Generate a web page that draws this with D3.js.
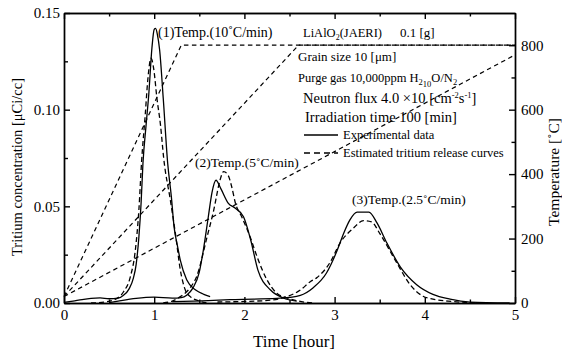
<!DOCTYPE html>
<html>
<head>
<meta charset="utf-8">
<script src="https://cdn.jsdelivr.net/npm/d3@7"></script>
<style>
  body { margin: 0; background: #fff; }
  svg { font-family: "Liberation Serif", "Times New Roman", serif; }
  .axis path, .axis line { stroke: #000; stroke-width: 1.4; }
  .axis text { font-size: 15px; fill: #000; font-family: "Liberation Serif", serif; }
</style>
</head>
<body>
<svg></svg>
<script>
// time axis (hour)
const hourTicks = [0, 1, 2, 3, 4, 5];
const hourMinor = [0.5, 1.5, 2.5, 3.5, 4.5];
const concTicks = [0, 0.05, 0.10, 0.15];
const concMinor = [0.025, 0.075, 0.125];
const tempTicks = [0, 200, 400, 600, 800];
const tempMinor = [100, 300, 500, 700];

// experimental data [hour, uCi/cc]
const exp1 = [[0, 0.0003], [0.1, 0.001], [0.2, 0.0018], [0.3, 0.0024], [0.4, 0.0026], [0.5, 0.0022],
  [0.6, 0.0025], [0.66, 0.004], [0.72, 0.0072], [0.77, 0.013], [0.80, 0.02], [0.83, 0.034],
  [0.855, 0.052], [0.875, 0.072], [0.91, 0.092], [0.94, 0.108], [0.975, 0.132], [1.0, 0.1415],
  [1.015, 0.142], [1.035, 0.139], [1.06, 0.131], [1.10, 0.106], [1.15, 0.072], [1.19, 0.055],
  [1.22, 0.0395], [1.26, 0.029], [1.29, 0.022], [1.36, 0.012], [1.46, 0.0067], [1.55, 0.0045], [1.62, 0.0033]];
const exp2 = [[0.5, 0.0002], [0.6, 0.001], [0.8, 0.0024], [1.0, 0.003], [1.2, 0.0025], [1.3, 0.0028],
  [1.36, 0.004], [1.43, 0.0078], [1.50, 0.016], [1.545, 0.0274], [1.60, 0.0446], [1.64, 0.057],
  [1.685, 0.0635], [1.74, 0.059], [1.82, 0.0517], [1.90, 0.049], [1.99, 0.0446], [2.07, 0.0326],
  [2.15, 0.017], [2.29, 0.0067], [2.43, 0.0026], [2.58, 0.001]];
const exp3 = [[1.2, 0.0007], [1.6, 0.0012], [1.84, 0.0017], [2.1, 0.002], [2.4, 0.0025], [2.62, 0.004],
  [2.76, 0.0078], [2.91, 0.0155], [3.03, 0.0274], [3.10, 0.036], [3.17, 0.043], [3.25, 0.047],
  [3.38, 0.047], [3.47, 0.0414], [3.58, 0.031], [3.73, 0.0186], [3.91, 0.0095], [4.09, 0.0045],
  [4.28, 0.002], [4.5, 0.0005], [4.94, 0]];

// estimated release curves
const est1 = [[0.3, 0], [0.45, 0.0005], [0.55, 0.0015], [0.66, 0.0058], [0.736, 0.0136], [0.79, 0.027],
  [0.83, 0.048], [0.86, 0.073], [0.90, 0.097], [0.93, 0.116], [0.965, 0.1266], [0.995, 0.121],
  [1.03, 0.106], [1.07, 0.092], [1.105, 0.075], [1.18, 0.053], [1.235, 0.036], [1.29, 0.017],
  [1.345, 0.0067], [1.40, 0.0033], [1.5, 0.001], [1.6, 0]];
const est2 = [[1.1, 0], [1.2, 0.001], [1.29, 0.0033], [1.40, 0.008], [1.47, 0.0136], [1.585, 0.034],
  [1.66, 0.048], [1.73, 0.0636], [1.77, 0.068], [1.82, 0.066], [1.86, 0.060], [1.90, 0.0517],
  [1.97, 0.0446], [2.065, 0.034], [2.14, 0.024], [2.25, 0.012], [2.36, 0.005], [2.47, 0.0026],
  [2.6, 0.001], [2.75, 0]];
const est3 = [[1.7, 0.0005], [2.0, 0.0008], [2.3, 0.0015], [2.45, 0.003], [2.62, 0.0067], [2.73, 0.011],
  [2.80, 0.013], [2.95, 0.021], [3.06, 0.031], [3.21, 0.0388], [3.32, 0.0426], [3.41, 0.042],
  [3.50, 0.036], [3.69, 0.0207], [3.84, 0.0093], [3.98, 0.0035], [4.09, 0.002], [4.3, 0.0008],
  [4.5, 0.0002], [4.6, 0]];

// heating programs [hour, degC]
const temp1 = [[0, 20], [1.3, 800], [5, 800]];
const temp2 = [[0, 20], [2.6, 800], [5, 800]];
const temp3 = [[0, 20], [5, 770]];

const width = 562;
const height = 352;
const plot = { left: 64, right: 515, top: 13, bottom: 303 };

const svg = d3.select('svg').attr('width', width).attr('height', height);

const x = d3.scaleLinear().domain([0, 5]).range([plot.left, plot.right]);
const y = d3.scaleLinear().domain([0, 0.15]).range([plot.bottom, plot.top]);
const yT = d3.scaleLinear().domain([0, 900]).range([plot.bottom, plot.top]);

// axes, ticks pointing inward
function addAxis(axis, tx, ty) {
  return svg.append('g').attr('class', 'axis')
    .attr('transform', `translate(${tx}, ${ty})`)
    .call(axis);
}
addAxis(d3.axisBottom(x).tickValues(hourTicks).tickSize(-6).tickSizeOuter(0).tickPadding(6)
  .tickFormat(d3.format('d')), 0, plot.bottom);
addAxis(d3.axisBottom(x).tickValues(hourMinor).tickSize(-3.5).tickSizeOuter(0).tickFormat(''), 0, plot.bottom);
addAxis(d3.axisTop(x).tickValues(hourTicks).tickSize(-6).tickSizeOuter(0).tickFormat(''), 0, plot.top);
addAxis(d3.axisTop(x).tickValues(hourMinor).tickSize(-3.5).tickSizeOuter(0).tickFormat(''), 0, plot.top);
addAxis(d3.axisLeft(y).tickValues(concTicks).tickSize(-6).tickSizeOuter(0).tickPadding(4)
  .tickFormat(d3.format('.2f')), plot.left, 0);
addAxis(d3.axisLeft(y).tickValues(concMinor).tickSize(-4).tickSizeOuter(0).tickFormat(''), plot.left, 0);
addAxis(d3.axisRight(yT).tickValues(tempTicks).tickSize(-6).tickSizeOuter(0).tickPadding(6)
  .tickFormat(d3.format('d')), plot.right, 0);
addAxis(d3.axisRight(yT).tickValues(tempMinor).tickSize(-3.5).tickSizeOuter(0).tickFormat(''), plot.right, 0);

// curves
const conc = d3.line().x(d => x(d[0])).y(d => y(d[1])).curve(d3.curveMonotoneX);
const temp = d3.line().x(d => x(d[0])).y(d => yT(d[1]));

[exp1, exp2, exp3].forEach(function(s) {
  svg.append('path').attr('d', conc(s))
    .attr('fill', 'none').attr('stroke', '#000').attr('stroke-width', 1.3);
});
[est1, est2, est3].forEach(function(s) {
  svg.append('path').attr('d', conc(s))
    .attr('fill', 'none').attr('stroke', '#000').attr('stroke-width', 1.3)
    .attr('stroke-dasharray', '5,3');
});
[temp1, temp2, temp3].forEach(function(s) {
  svg.append('path').attr('d', temp(s))
    .attr('fill', 'none').attr('stroke', '#000').attr('stroke-width', 1.2)
    .attr('stroke-dasharray', '4.5,3.5');
});

// axis titles
svg.append('text')
  .attr('transform', `translate(22, 167) rotate(-90)`)
  .attr('text-anchor', 'middle').attr('font-size', 14.5)
  .text('Tritium concentration [μCi/cc]');
svg.append('text')
  .attr('transform', `translate(559, 172) rotate(-90)`)
  .attr('text-anchor', 'middle').attr('font-size', 15.5)
  .text('Temperature [˚C]');
svg.append('text')
  .attr('x', 294).attr('y', 347)
  .attr('text-anchor', 'middle').attr('font-size', 17)
  .text('Time [hour]');

// annotations
function label(tx, ty, size, str) {
  return svg.append('text').attr('x', tx).attr('y', ty).attr('font-size', size).text(str);
}
label(158, 37, 14, '(1)Temp.(10˚C/min)');
label(195, 167, 13.5, '(2)Temp.(5˚C/min)');
label(352, 204, 13.5, '(3)Temp.(2.5˚C/min)');

const li = label(303, 37, 12.5, 'LiAlO');
li.append('tspan').attr('dy', 3).attr('font-size', 8).text('2');
li.append('tspan').attr('dy', -3).text('(JAERI)');
label(400, 37, 13, '0.1 [g]');
label(298, 61, 13, 'Grain size 10 [μm]');

const pg = label(298, 82, 12.5, 'Purge gas 10,000ppm H');
pg.append('tspan').attr('dy', 3).attr('font-size', 8.5).text('2');
pg.append('tspan').attr('dy', 2).attr('font-size', 8.5).text('10');
pg.append('tspan').attr('dy', -5).text('O/N');
pg.append('tspan').attr('dy', 3).attr('font-size', 8.5).text('2');

const nf = label(303, 103, 14.5, 'Neutron flux 4.0 ×10   [cm');
nf.append('tspan').attr('dy', -5).attr('font-size', 8.5).text('-2');
nf.append('tspan').attr('dy', 5).text('s');
nf.append('tspan').attr('dy', -5).attr('font-size', 8.5).text('-1');
nf.append('tspan').attr('dy', 5).text(']');
label(305, 122, 14.5, 'Irradiation time 100 [min]');

// legend
svg.append('line').attr('x1', 304).attr('x2', 338).attr('y1', 135).attr('y2', 135)
  .attr('stroke', '#000').attr('stroke-width', 1.3);
svg.append('line').attr('x1', 304).attr('x2', 338).attr('y1', 153).attr('y2', 153)
  .attr('stroke', '#000').attr('stroke-width', 1.3).attr('stroke-dasharray', '6,4');
label(343, 139, 12.5, 'Experimental data');
label(343, 157, 12.5, 'Estimated tritium release curves');
</script>
</body>
</html>
